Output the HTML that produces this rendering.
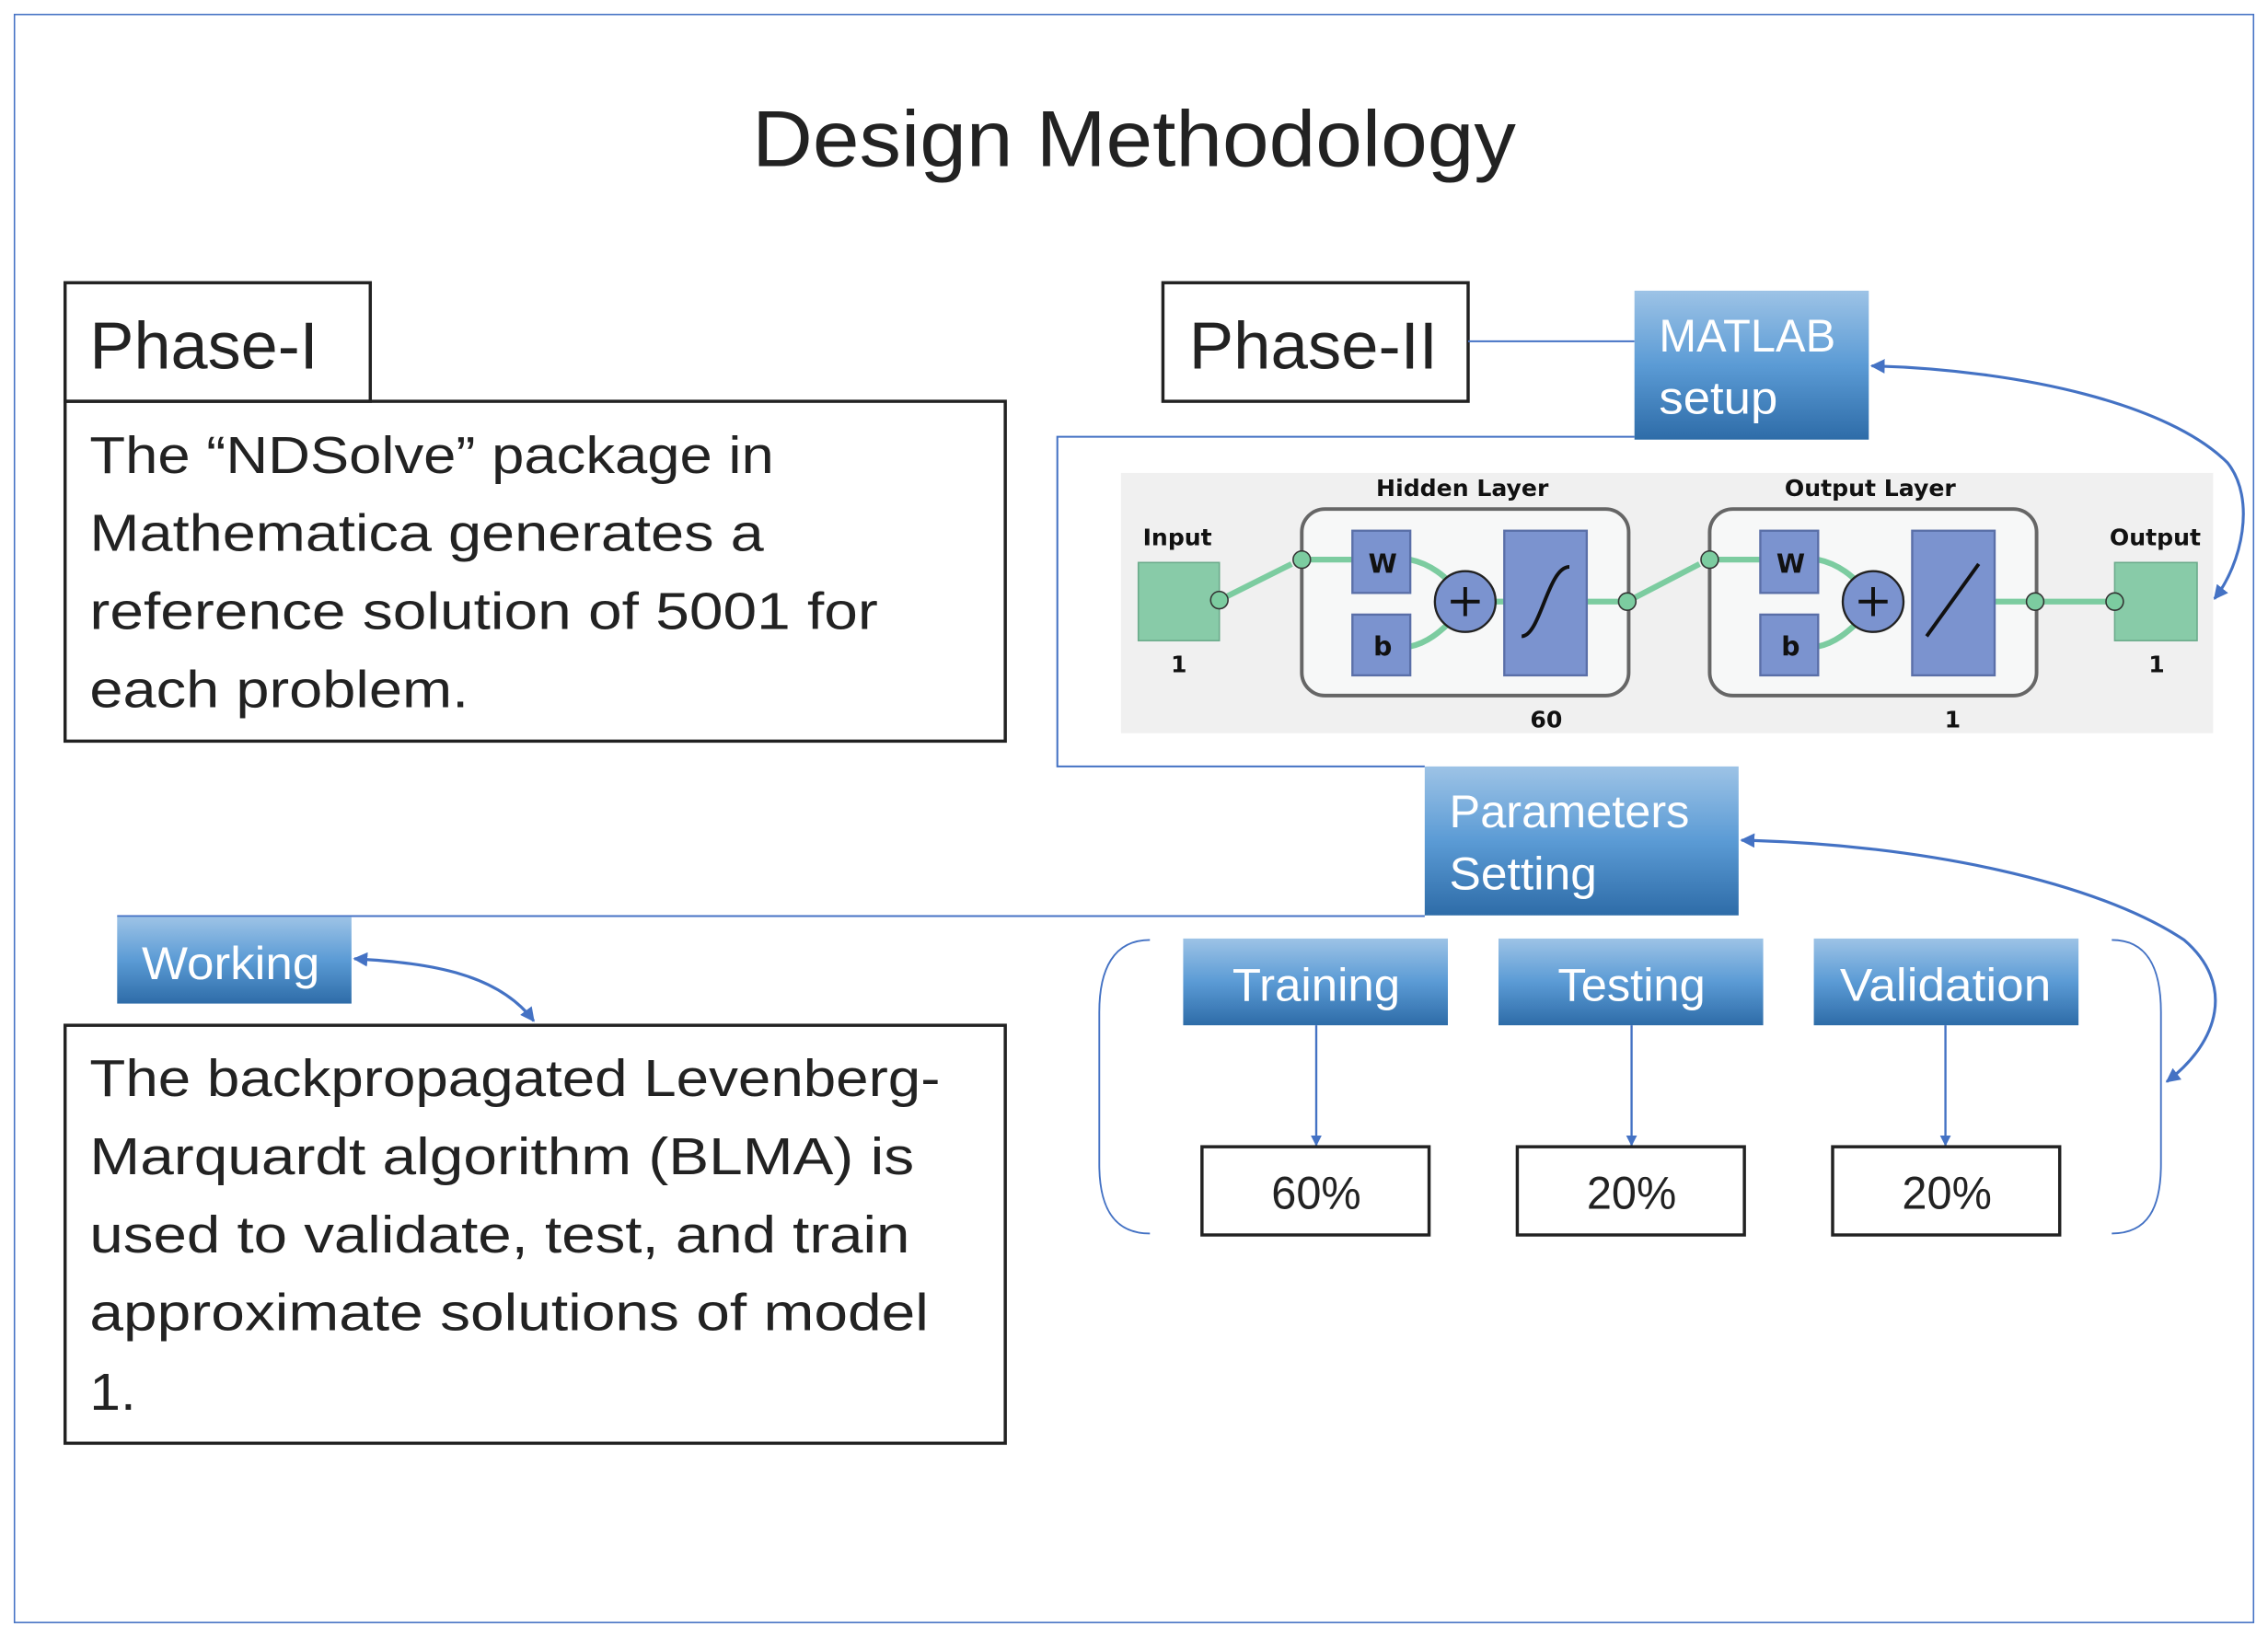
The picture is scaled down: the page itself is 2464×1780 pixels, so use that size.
<!DOCTYPE html>
<html><head><meta charset="utf-8"><style>html,body{margin:0;padding:0;background:#fff}svg{display:block}</style></head>
<body>
<svg width="2464" height="1780" viewBox="0 0 1568 1132.7" xmlns="http://www.w3.org/2000/svg" font-family="Liberation Sans, sans-serif">
<defs>
<linearGradient id="g" x1="0" y1="0" x2="0" y2="1"><stop offset="0" stop-color="#9dc3e6"/><stop offset="0.5" stop-color="#5b9bd5"/><stop offset="1" stop-color="#2e6ca8"/></linearGradient>
<marker id="ah" viewBox="0 0 10 10" refX="9" refY="5" markerWidth="5" markerHeight="5" orient="auto-start-reverse"><path d="M0,0L10,5L0,10z" fill="#4472c4"/></marker>
</defs>
<rect x="10" y="10" width="1548" height="1112" fill="none" stroke="#4472c4" stroke-width="1"/>
<text x="784" y="115" font-size="55" text-anchor="middle" fill="#222" textLength="528" lengthAdjust="spacingAndGlyphs">Design Methodology</text>

<!-- Phase I -->
<rect x="45" y="195.5" width="211" height="82" fill="none" stroke="#222" stroke-width="2.2"/>
<text x="62" y="255" font-size="46" fill="#222" textLength="158" lengthAdjust="spacingAndGlyphs">Phase-I</text>
<rect x="45" y="277.5" width="650" height="235" fill="none" stroke="#222" stroke-width="2.2"/>
<g font-size="36" fill="#222">
<text x="62" y="327" textLength="473" lengthAdjust="spacingAndGlyphs">The “NDSolve” package in</text>
<text x="62" y="381" textLength="466" lengthAdjust="spacingAndGlyphs">Mathematica generates a</text>
<text x="62" y="435" textLength="545" lengthAdjust="spacingAndGlyphs">reference solution of 5001 for</text>
<text x="62" y="489" textLength="262" lengthAdjust="spacingAndGlyphs">each problem.</text>
</g>

<!-- Working -->
<line x1="81" y1="633.5" x2="985" y2="633.5" stroke="#4472c4" stroke-width="1.3"/>
<rect x="81" y="634" width="162" height="60" fill="url(#g)"/>
<text x="98" y="677" font-size="32" fill="#fff" textLength="123" lengthAdjust="spacingAndGlyphs">Working</text>
<path d="M245,663 C300,666 345,674 369,706" fill="none" stroke="#4472c4" stroke-width="2" marker-start="url(#ah)" marker-end="url(#ah)"/>
<rect x="45" y="709" width="650" height="289" fill="none" stroke="#222" stroke-width="2.2"/>
<g font-size="36" fill="#222">
<text x="62" y="758" textLength="588" lengthAdjust="spacingAndGlyphs">The backpropagated Levenberg-</text>
<text x="62" y="812" textLength="570" lengthAdjust="spacingAndGlyphs">Marquardt algorithm (BLMA) is</text>
<text x="62" y="866" textLength="567" lengthAdjust="spacingAndGlyphs">used to validate, test, and train</text>
<text x="62" y="920" textLength="580" lengthAdjust="spacingAndGlyphs">approximate solutions of model</text>
<text x="62" y="975" textLength="32" lengthAdjust="spacingAndGlyphs">1.</text>
</g>

<!-- Phase II -->
<rect x="804" y="195.5" width="211" height="82" fill="none" stroke="#222" stroke-width="2.2"/>
<text x="822" y="255" font-size="46" fill="#222" textLength="172" lengthAdjust="spacingAndGlyphs">Phase-II</text>
<line x1="1015" y1="236" x2="1130" y2="236" stroke="#4472c4" stroke-width="1.3"/>
<polyline points="1130,302 731,302 731,530 985,530" fill="none" stroke="#4472c4" stroke-width="1.3"/>
<rect x="1130" y="201" width="162" height="103" fill="url(#g)"/>
<text x="1147" y="243" font-size="32" fill="#fff" textLength="122" lengthAdjust="spacingAndGlyphs">MATLAB</text>
<text x="1147" y="286" font-size="32" fill="#fff" textLength="82" lengthAdjust="spacingAndGlyphs">setup</text>
<path d="M1294,253 C1400,256 1500,280 1540,320 C1560,345 1550,390 1531,414" fill="none" stroke="#4472c4" stroke-width="2" marker-start="url(#ah)" marker-end="url(#ah)"/>

<!-- NN -->
<rect x="775" y="327" width="755" height="180" fill="#f0f0f0"/>
<g font-family="DejaVu Sans, sans-serif" font-weight="bold" font-size="16" fill="#111" text-anchor="middle">
<text x="814" y="377">Input</text><text x="815" y="465">1</text>
<text x="1011" y="343">Hidden Layer</text><text x="1069" y="503">60</text>
<text x="1293" y="343">Output Layer</text><text x="1350" y="503">1</text>
<text x="1490" y="377">Output</text><text x="1491" y="465">1</text>
</g>
<rect x="900" y="352" width="226" height="129" rx="16" fill="#f7f8f8" stroke="#666" stroke-width="2.5"/>
<rect x="1182" y="352" width="226" height="129" rx="16" fill="#f7f8f8" stroke="#666" stroke-width="2.5"/>
<rect x="787" y="389" width="56" height="54" fill="#88cba8" stroke="#6aaa8a"/>
<rect x="1462" y="389" width="57" height="54" fill="#88cba8" stroke="#6aaa8a"/>
<g stroke="#7ccca0" stroke-width="4" fill="none">
<path d="M843,415 L893,390"/><path d="M900,387 L935,387"/>
<path d="M975,387 C990,390 1000,400 1005,405"/><path d="M975,447 C990,444 1000,432 1005,428"/>
<path d="M1034,416 L1040,416"/><path d="M1097,416 L1125,416"/>
<path d="M1125,416 L1175,390"/><path d="M1182,387 L1217,387"/>
<path d="M1257,387 C1272,390 1282,400 1287,405"/><path d="M1257,447 C1272,444 1282,432 1287,428"/>
<path d="M1379,416 L1462,416"/>
</g>
<g fill="#7ccca0" stroke="#333" stroke-width="1">
<circle cx="843" cy="415" r="6"/><circle cx="900" cy="387" r="6"/><circle cx="1125" cy="416" r="6"/><circle cx="1182" cy="387" r="6"/><circle cx="1407" cy="416" r="6"/><circle cx="1462" cy="416" r="6"/>
</g>
<g fill="#7b93cf" stroke="#5a6fa8" stroke-width="1.5">
<rect x="935" y="367" width="40" height="43"/><rect x="935" y="425" width="40" height="42"/><rect x="1040" y="367" width="57" height="100"/>
<rect x="1217" y="367" width="40" height="43"/><rect x="1217" y="425" width="40" height="42"/><rect x="1322" y="367" width="57" height="100"/>
<circle cx="1013" cy="416" r="21" stroke="#222"/><circle cx="1295" cy="416" r="21" stroke="#222"/>
</g>
<g font-family="DejaVu Sans, sans-serif" font-weight="bold" font-size="18" fill="#111" text-anchor="middle">
<text x="956" y="396">W</text><text x="956" y="453">b</text><text x="1238" y="396">W</text><text x="1238" y="453">b</text>
</g>
<g stroke="#111" stroke-width="2.5" fill="none">
<path d="M1003,416h20M1013,406v20M1285,416h20M1295,406v20"/>
<path d="M1052,440 C1065,440 1070,392 1085,392"/>
<path d="M1332,440 L1368,390"/>
</g>

<!-- Parameters -->
<rect x="985" y="530" width="217" height="103" fill="url(#g)"/>
<text x="1002" y="572" font-size="32" fill="#fff" textLength="166" lengthAdjust="spacingAndGlyphs">Parameters</text>
<text x="1002" y="615" font-size="32" fill="#fff" textLength="102" lengthAdjust="spacingAndGlyphs">Setting</text>
<path d="M1204,581 C1330,584 1450,610 1510,650 C1545,680 1535,720 1498,748" fill="none" stroke="#4472c4" stroke-width="2" marker-start="url(#ah)" marker-end="url(#ah)"/>

<path d="M795,650 C770,650 760,670 760,700 L760,805 C760,835 770,853 795,853" fill="none" stroke="#4472c4" stroke-width="1.2"/>
<path d="M1460,650 C1485,650 1494,670 1494,700 L1494,805 C1494,835 1485,853 1460,853" fill="none" stroke="#4472c4" stroke-width="1.2"/>

<g font-size="32" fill="#fff" text-anchor="middle">
<rect x="818" y="649" width="183" height="60" fill="url(#g)"/><text x="910" y="692" textLength="116" lengthAdjust="spacingAndGlyphs">Training</text>
<rect x="1036" y="649" width="183" height="60" fill="url(#g)"/><text x="1128" y="692" textLength="102" lengthAdjust="spacingAndGlyphs">Testing</text>
<rect x="1254" y="649" width="183" height="60" fill="url(#g)"/><text x="1345" y="692" textLength="146" lengthAdjust="spacingAndGlyphs">Validation</text>
</g>
<g stroke="#4472c4" stroke-width="1.5" marker-end="url(#ah)">
<line x1="910" y1="709" x2="910" y2="792"/><line x1="1128" y1="709" x2="1128" y2="792"/><line x1="1345" y1="709" x2="1345" y2="792"/>
</g>
<g fill="none" stroke="#222" stroke-width="2.2">
<rect x="831" y="793" width="157" height="61"/><rect x="1049" y="793" width="157" height="61"/><rect x="1267" y="793" width="157" height="61"/>
</g>
<g font-size="32" fill="#222" text-anchor="middle">
<text x="910" y="836" textLength="62" lengthAdjust="spacingAndGlyphs">60%</text>
<text x="1128" y="836" textLength="62" lengthAdjust="spacingAndGlyphs">20%</text>
<text x="1346" y="836" textLength="62" lengthAdjust="spacingAndGlyphs">20%</text>
</g>
</svg>
</body></html>
